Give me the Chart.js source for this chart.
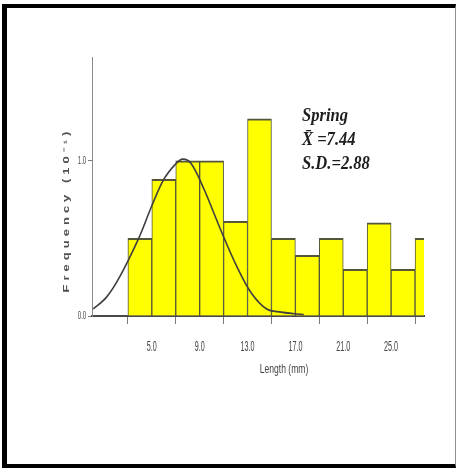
<!DOCTYPE html>
<html>
<head>
<meta charset="utf-8">
<title>Spring length distribution</title>
<script src="https://cdn.jsdelivr.net/npm/chart.js@4.4.1/dist/chart.umd.min.js"></script>
<style>
  html, body { margin: 0; padding: 0; background: #fff; }
  #wrap { position: relative; width: 457px; height: 468px; overflow: hidden; }
  #chart { position: absolute; left: 0; top: 0; }
  #frame {
    position: absolute; left: 2px; top: 4px; width: 454px; height: 464px;
    box-sizing: border-box; pointer-events: none;
    border-top: 4px solid #000; border-left: 5px solid #000;
    border-right: 1px solid #8f8f8f; border-bottom: 4px solid #000;
  }
</style>
</head>
<body>
<div id="wrap">
  <canvas id="chart" width="457" height="468"></canvas>
  <div id="frame"></div>
</div>
<script>
// Histogram bins (length, mm): centre of each 2 mm class
const binCenters = [4, 6, 8, 10, 12, 14, 16, 18, 20, 22, 24, 26, 28];
// Frequency of each class (x10^-1)
const frequencies = [0.50, 0.88, 1.00, 1.00, 0.61, 1.27, 0.50, 0.39, 0.50, 0.30, 0.60, 0.30, 0.50];
// Fitted normal curve, sampled points
const curveX = [0.1, 1.2, 2.3, 3.9, 5.0, 6.0, 7.0, 7.6, 8.3, 9.4, 10.2, 11.0, 12.1, 13.3, 14.6, 15.8, 16.9, 17.7];
const curveY = [0.045, 0.12, 0.25, 0.50, 0.71, 0.88, 0.98, 1.01, 0.98, 0.81, 0.66, 0.51, 0.32, 0.15, 0.045, 0.025, 0.015, 0.01];
// Axis ticks
const xTickValues = [5, 9, 13, 17, 21, 25];
const yTickValues = [0, 1];
// Summary text
const summaryLines = ['Spring', 'X\u0304 =7.44', 'S.D.=2.88'];
const xTitle = 'Length (mm)';
const yTitle = 'Frequency (10\u207B\u00B9)';

const tickGray = '#444';

// Draws the squeezed tick labels, axis titles and the summary block
const textPlugin = {
  id: 'histText',
  afterDraw(chart) {
    const ctx = chart.ctx;
    const xs = chart.scales.x, ys = chart.scales.y;
    ctx.save();
    ctx.fillStyle = tickGray;
    ctx.textAlign = 'center';
    ctx.textBaseline = 'middle';

    // x tick labels
    ctx.font = '12px "Liberation Sans", Arial, sans-serif';
    xs.ticks.forEach(t => {
      const px = xs.getPixelForValue(t.value);
      ctx.save();
      ctx.translate(px, 347);
      ctx.scale(0.6, 1.2);
      ctx.fillText(t.label, 0, 0);
      ctx.restore();
    });

    // y tick labels
    ctx.font = '10px "Liberation Sans", Arial, sans-serif';
    ys.ticks.forEach(t => {
      const py = ys.getPixelForValue(t.value);
      ctx.save();
      ctx.translate(82, py);
      ctx.scale(0.6, 1.1);
      ctx.fillText(t.label, 0, 0);
      ctx.restore();
    });

    // x title
    ctx.font = '11px "Liberation Sans", Arial, sans-serif';
    ctx.save();
    ctx.translate(284, 370);
    ctx.scale(0.78, 1.15);
    ctx.fillText(xTitle, 0, 0);
    ctx.restore();

    // y title (rotated)
    ctx.save();
    ctx.translate(67, 210);
    ctx.rotate(-Math.PI / 2);
    ctx.scale(1, 0.65);
    ctx.font = 'bold 13px "Liberation Sans", Arial, sans-serif';
    ctx.letterSpacing = '4px';
    ctx.fillStyle = '#505050';
    ctx.fillText(yTitle, 0, 0);
    ctx.restore();

    // summary block
    ctx.fillStyle = '#1e1e1e';
    ctx.textAlign = 'left';
    ctx.textBaseline = 'alphabetic';
    ctx.font = 'italic bold 18px "Liberation Serif", "Times New Roman", serif';
    const baselines = [121, 145, 169];
    summaryLines.forEach((s, i) => {
      ctx.save();
      ctx.translate(302, baselines[i]);
      ctx.scale(0.92, 1);
      ctx.fillText(s, 0, 0);
      ctx.restore();
    });
    ctx.restore();
  }
};

new Chart(document.getElementById('chart'), {
  type: 'bar',
  data: {
    datasets: [
      {
        type: 'line',
        label: 'Normal fit',
        data: curveX.map((x, i) => ({ x, y: curveY[i] })),
        borderColor: '#3f3f3f',
        borderWidth: 1.6,
        pointRadius: 0,
        fill: false,
        tension: 0.35,
        order: 0
      },
      {
        type: 'bar',
        label: 'Frequency',
        data: binCenters.map((x, i) => ({ x, y: frequencies[i] })),
        backgroundColor: '#ffff00',
        borderColor: '#55553a',
        borderWidth: { top: 2, left: 1, right: 1, bottom: 0 },
        borderSkipped: false,
        barPercentage: 1,
        categoryPercentage: 1,
        grouped: false,
        order: 1
      }
    ]
  },
  options: {
    responsive: false,
    animation: false,
    devicePixelRatio: 1,
    layout: { padding: { left: 0, top: 57, right: 33, bottom: 0 } },
    plugins: { legend: { display: false }, tooltip: { enabled: false } },
    scales: {
      x: {
        type: 'linear',
        offset: false,
        min: 0,
        max: 27.75,
        afterBuildTicks: s => { s.ticks = xTickValues.map(v => ({ value: v })); },
        afterFit: s => { s.height = 152; },
        ticks: { display: false, callback: v => Number(v).toFixed(1) },
        grid: { drawOnChartArea: false, drawTicks: true, tickLength: 8, color: '#7a7a7a', lineWidth: 1 },
        border: { display: true, color: '#4a4a4a', width: 2 }
      },
      y: {
        type: 'linear',
        min: 0,
        max: 1.668,
        afterBuildTicks: s => { s.ticks = yTickValues.map(v => ({ value: v })); },
        afterFit: s => { s.width = 92; },
        ticks: { display: false, callback: v => Number(v).toFixed(1) },
        grid: { drawOnChartArea: false, drawTicks: true, tickLength: 4, color: '#7a7a7a', lineWidth: 1 },
        border: { display: true, color: '#8a8a8a', width: 1 }
      }
    }
  },
  plugins: [textPlugin]
});
</script>
</body>
</html>
